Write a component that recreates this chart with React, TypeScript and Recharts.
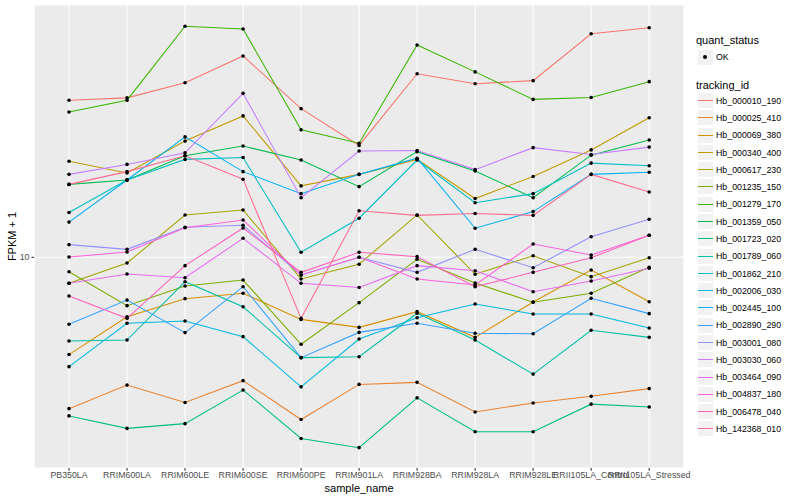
import { ComposedChart, Line, XAxis, YAxis, CartesianGrid, Label } from "recharts";

const samples = [
  "PB350LA", "RRIM600LA", "RRIM600LE", "RRIM600SE", "RRIM600PE", "RRIM901LA",
  "RRIM928BA", "RRIM928LA", "RRIM928LE", "RRII105LA_Control", "RRII105LA_Stressed",
];

// FPKM + 1, one value per sample
const hb_000010_190 = [33.4, 34.0, 38.2, 46.9, 31.3, 23.6, 40.9, 37.9, 38.8, 55.6, 58.2];
const hb_000025_410 = [3.13, 3.75, 3.28, 3.88, 2.88, 3.77, 3.83, 3.05, 3.27, 3.44, 3.65];
const hb_000069_380 = [4.74, 6.34, 7.28, 7.59, 6.21, 5.84, 6.59, 5.41, 7.1, 9.07, 7.11];
const hb_000340_400 = [20.9, 19.1, 24.4, 29.6, 17.3, 18.9, 21.2, 15.7, 18.6, 22.8, 29.2];
const hb_000617_230 = [8.19, 9.57, 13.84, 14.38, 8.47, 9.48, 13.84, 8.78, 10.12, 8.62, 9.97];
const hb_001235_150 = [8.95, 6.9, 8.02, 8.4, 5.13, 7.06, 9.85, 8.21, 7.08, 7.59, 9.26];
const hb_001279_170 = [30.5, 33.4, 58.9, 57.7, 26.6, 24.0, 51.0, 41.5, 33.6, 34.1, 38.5];
const hb_001359_050 = [17.5, 18.1, 21.8, 23.5, 21.1, 17.2, 22.5, 19.4, 15.8, 21.9, 24.6];
const hb_001723_020 = [2.96, 2.69, 2.79, 3.61, 2.49, 2.32, 3.4, 2.62, 2.62, 3.24, 3.17];
const hb_001789_060 = [5.26, 5.3, 8.29, 6.84, 4.63, 4.66, 6.51, 5.3, 4.08, 5.71, 5.41];
const hb_001862_210 = [14.1, 18.1, 21.2, 21.5, 10.4, 13.5, 21.1, 15.2, 16.3, 20.6, 20.2];
const hb_002006_030 = [4.32, 6.03, 6.13, 5.44, 3.7, 5.34, 6.29, 6.99, 6.47, 6.47, 5.81];
const hb_002445_100 = [13.1, 18.1, 25.2, 19.3, 16.3, 18.9, 21.4, 12.5, 14.2, 18.9, 19.2];
const hb_002890_290 = [5.98, 7.2, 5.61, 7.98, 4.63, 5.62, 6.03, 5.58, 5.56, 7.3, 6.49];
const hb_003001_080 = [11.02, 10.63, 12.59, 12.79, 8.73, 10.0, 8.91, 10.63, 9.23, 11.71, 13.39];
const hb_003030_060 = [18.9, 20.4, 22.3, 35.2, 15.8, 22.6, 22.7, 19.6, 23.2, 22.0, 23.3];
const hb_003464_090 = [8.19, 8.8, 8.55, 11.57, 8.19, 7.93, 9.38, 9.02, 7.68, 8.34, 9.19];
const hb_004837_180 = [10.02, 10.41, 12.55, 13.31, 8.73, 10.0, 8.47, 8.09, 11.07, 10.18, 11.84];
const hb_006478_040 = [7.43, 6.26, 9.38, 12.52, 8.91, 10.39, 10.05, 7.98, 8.91, 9.97, 11.84];
const hb_142368_010 = [17.5, 19.3, 21.8, 18.2, 6.26, 14.3, 13.8, 14.0, 13.8, 18.9, 16.5];

const trackingIds = [
  "Hb_000010_190", "Hb_000025_410", "Hb_000069_380", "Hb_000340_400", "Hb_000617_230",
  "Hb_001235_150", "Hb_001279_170", "Hb_001359_050", "Hb_001723_020", "Hb_001789_060",
  "Hb_001862_210", "Hb_002006_030", "Hb_002445_100", "Hb_002890_290", "Hb_003001_080",
  "Hb_003030_060", "Hb_003464_090", "Hb_004837_180", "Hb_006478_040", "Hb_142368_010",
];

const seriesValues = [
  hb_000010_190, hb_000025_410, hb_000069_380, hb_000340_400, hb_000617_230,
  hb_001235_150, hb_001279_170, hb_001359_050, hb_001723_020, hb_001789_060,
  hb_001862_210, hb_002006_030, hb_002445_100, hb_002890_290, hb_003001_080,
  hb_003030_060, hb_003464_090, hb_004837_180, hb_006478_040, hb_142368_010,
];

const colors = [
  "#F8766D", "#EA8331", "#D89000", "#C09B00", "#A3A500", "#7CAE00", "#39B600",
  "#00BB4E", "#00BF7D", "#00C1A3", "#00BFC4", "#00BAE0", "#00B0F6", "#35A2FF",
  "#9590FF", "#C77CFF", "#E76BF3", "#FA62DB", "#FF62BC", "#FF6C91",
];

// plotted on log10 scale
const rows = samples.map((s, i) => {
  const row: Record<string, number | string> = { x: i, name: s };
  trackingIds.forEach((id, k) => {
    row[id] = Math.log10(seriesValues[k][i]);
  });
  return row;
});

const font = '"Liberation Sans", Arial, Helvetica, sans-serif';

const Dot = (p: any) => {
  if (p.cx == null || p.cy == null) return <g key={p.key} />;
  return <circle key={p.key} cx={p.cx} cy={p.cy} r={1.8} fill="#000" />;
};

function LegendBox() {
  const key = 17.28;
  const first = 100.7;
  return (
    <div style={{ position: "absolute", left: 0, top: 0, fontFamily: font }}>
      <div style={{ position: "absolute", left: 696, top: 34, fontSize: 11, lineHeight: "13px", whiteSpace: "nowrap" }}>
        quant_status
      </div>
      <div
        style={{
          position: "absolute", left: 697, top: 57.3 - key / 2, width: key, height: key,
          background: "#F2F2F2", border: "1px solid #fff", boxSizing: "border-box",
        }}
      >
        <div style={{ position: "absolute", left: 5, top: 5.5, width: 4, height: 4, borderRadius: 2, background: "#000" }} />
      </div>
      <div style={{ position: "absolute", left: 716, top: 57.3 - 6, fontSize: 8.8, lineHeight: "12px" }}>OK</div>
      <div style={{ position: "absolute", left: 696, top: 78.5, fontSize: 11, lineHeight: "13px", whiteSpace: "nowrap" }}>
        tracking_id
      </div>
      {trackingIds.map((id, i) => {
        const cy = first + i * key;
        return (
          <div key={id}>
            <div
              style={{
                position: "absolute", left: 697, top: Math.round(cy - key / 2), width: key, height: key,
                background: "#F2F2F2", border: "1px solid #fff", boxSizing: "border-box",
              }}
            >
              <div style={{ position: "absolute", left: 0, right: 0, top: 7, height: 1.4, background: colors[i] }} />
            </div>
            <div style={{ position: "absolute", left: 716, top: cy - 6, fontSize: 8.8, lineHeight: "12px", whiteSpace: "nowrap" }}>
              {id}
            </div>
          </div>
        );
      })}
    </div>
  );
}

export default function App() {
  return (
    <div style={{ position: "absolute", left: 0, top: 0, width: 800, height: 500, background: "#fff", fontFamily: font }}>
      <ComposedChart width={800} height={500} data={rows} margin={{ top: 5, right: 116, bottom: 0, left: 0 }}>
        <CartesianGrid fill="#EBEBEB" stroke="#FFFFFF" strokeWidth={1.07} />
        <XAxis
          dataKey="x"
          type="number"
          domain={[-0.6, 10.6]}
          ticks={[0, 1, 2, 3, 4, 5, 6, 7, 8, 9, 10]}
          interval={0}
          tickFormatter={(v: number) => samples[v]}
          height={32}
          axisLine={false}
          tickSize={2.75}
          tickMargin={1}
          tickLine={{ stroke: "#333333", strokeWidth: 1.07 }}
          tick={{ fill: "#4D4D4D", fontSize: 8.8, fontFamily: font }}
        >
          <Label value="sample_name" position="insideBottom" offset={8} fill="#000" fontSize={11} fontFamily={font} />
        </XAxis>
        <YAxis
          type="number"
          domain={[0.2977, 1.841]}
          allowDataOverflow
          ticks={[1]}
          tickFormatter={(v: number) => String(Math.round(Math.pow(10, v)))}
          width={34.2}
          axisLine={false}
          tickSize={2.75}
          tickMargin={2}
          tickLine={{ stroke: "#333333", strokeWidth: 1.07 }}
          tick={{ fill: "#4D4D4D", fontSize: 8.8, fontFamily: font }}
        >
          <Label
            content={(p: any) => {
              const vb = p.viewBox || { y: 5, height: 463 };
              const cy = vb.y + vb.height / 2;
              return (
                <text x={16} y={cy} transform={`rotate(-90 16 ${cy})`} textAnchor="middle" fontSize={11} fontFamily={font} fill="#000">
                  FPKM + 1
                </text>
              );
            }}
          />
        </YAxis>
        {trackingIds.map((id, k) => (
          <Line
            key={id}
            type="linear"
            dataKey={id}
            stroke={colors[k]}
            strokeWidth={1.07}
            dot={false}
            activeDot={false}
            isAnimationActive={false}
          />
        ))}
        {trackingIds.map((id) => (
          <Line
            key={id + "_pt"}
            type="linear"
            dataKey={id}
            stroke="transparent"
            strokeWidth={0}
            dot={Dot}
            activeDot={false}
            isAnimationActive={false}
            legendType="none"
          />
        ))}
      </ComposedChart>
      <LegendBox />
    </div>
  );
}
